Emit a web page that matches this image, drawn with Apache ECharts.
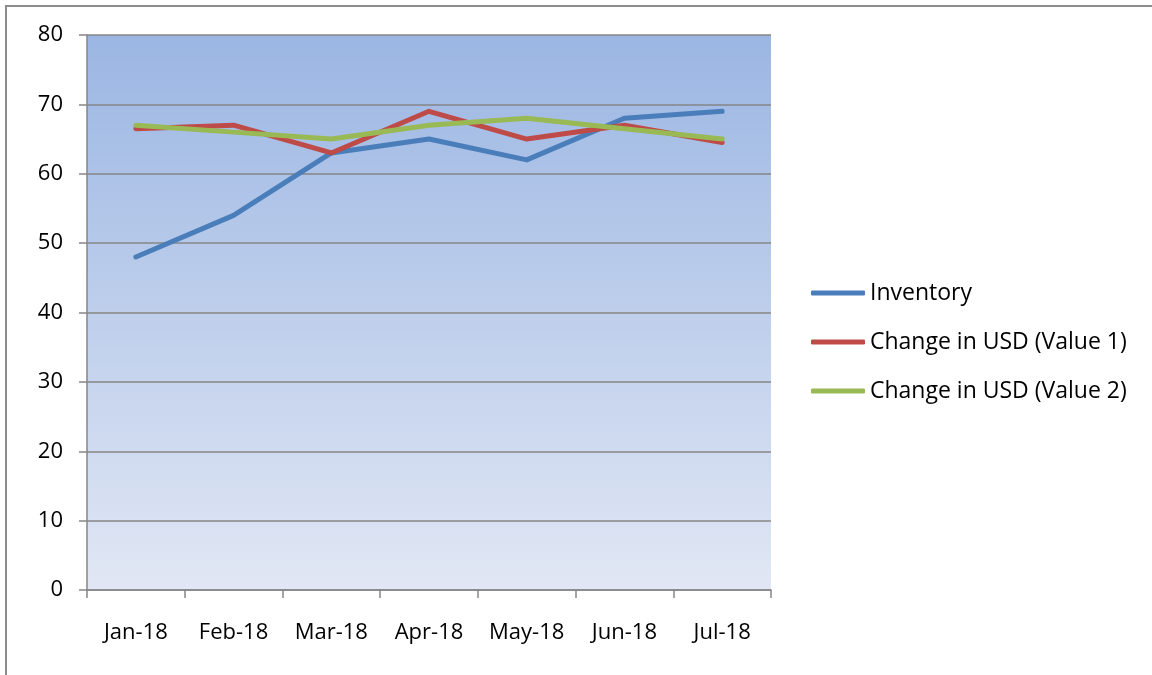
<!DOCTYPE html>
<html>
<head>
<meta charset="utf-8">
<script src="https://cdn.jsdelivr.net/npm/echarts@6/dist/echarts.min.js"></script>
<style>
  html, body { margin: 0; padding: 0; background: #fff; }
  #frame { position: absolute; left: 5px; top: 5px; width: 1150px; height: 672px; border: 2px solid #8c8c8c; box-sizing: border-box; }
  #chart { position: absolute; left: 0; top: 0; width: 1152px; height: 675px; }
</style>
</head>
<body>
<div id="frame"></div>
<div id="chart"></div>
<script>
const months = ['Jan-18', 'Feb-18', 'Mar-18', 'Apr-18', 'May-18', 'Jun-18', 'Jul-18'];
const inventory = [48, 54, 63, 65, 62, 68, 69];
const usdValue1 = [66.5, 67, 63, 69, 65, 67, 64.5];
const usdValue2 = [67, 66, 65, 67, 68, 66.5, 65];
const seriesNames = ['Inventory', 'Change in USD (Value 1)', 'Change in USD (Value 2)'];
const seriesColors = ['#4a7ebb', '#be4b48', '#98b954'];

const chart = echarts.init(document.getElementById('chart'));

const font = 'Open Sans, Liberation Sans, sans-serif';

chart.setOption({
    animation: false,
    grid: {
        left: 87, right: 381, top: 35, bottom: 85,
        show: true,
        borderWidth: 0,
        backgroundColor: new echarts.graphic.LinearGradient(0, 0, 0, 1, [
            { offset: 0, color: '#9bb6e3' },
            { offset: 1, color: '#e1e7f4' }
        ])
    },
    legend: {
        orient: 'vertical',
        left: 811,
        top: 278,
        padding: 0,
        itemGap: 19,
        itemWidth: 54,
        itemHeight: 5,
        icon: 'roundRect',
        textStyle: { fontFamily: font, fontSize: 23, color: '#000', padding: [0, 0, 0, 0], lineHeight: 30 },
        data: seriesNames
    },
    xAxis: {
        type: 'category',
        data: months,
        boundaryGap: true,
        axisLine: { lineStyle: { color: '#868686', width: 1.5 } },
        axisTick: { show: true, interval: 0, length: 8, lineStyle: { color: '#868686', width: 1.5 } },
        axisLabel: { interval: 0, fontFamily: font, fontSize: 22, color: '#000', margin: 32 }
    },
    yAxis: {
        type: 'value',
        min: 0, max: 80, interval: 10,
        axisLine: { show: true, lineStyle: { color: '#868686', width: 1.5 } },
        axisTick: { show: true, length: 8, lineStyle: { color: '#868686', width: 1.5 } },
        splitLine: { lineStyle: { color: '#868686', width: 1.5 } },
        axisLabel: { fontFamily: font, fontSize: 22, color: '#000', margin: 24 }
    },
    series: [
        { name: seriesNames[0], type: 'line', data: inventory },
        { name: seriesNames[1], type: 'line', data: usdValue1 },
        { name: seriesNames[2], type: 'line', data: usdValue2 }
    ].map((s, i) => Object.assign(s, {
        symbol: 'none',
        color: seriesColors[i],
        lineStyle: { width: 5, color: seriesColors[i], cap: 'round', join: 'round' }
    }))
});
</script>
</body>
</html>
